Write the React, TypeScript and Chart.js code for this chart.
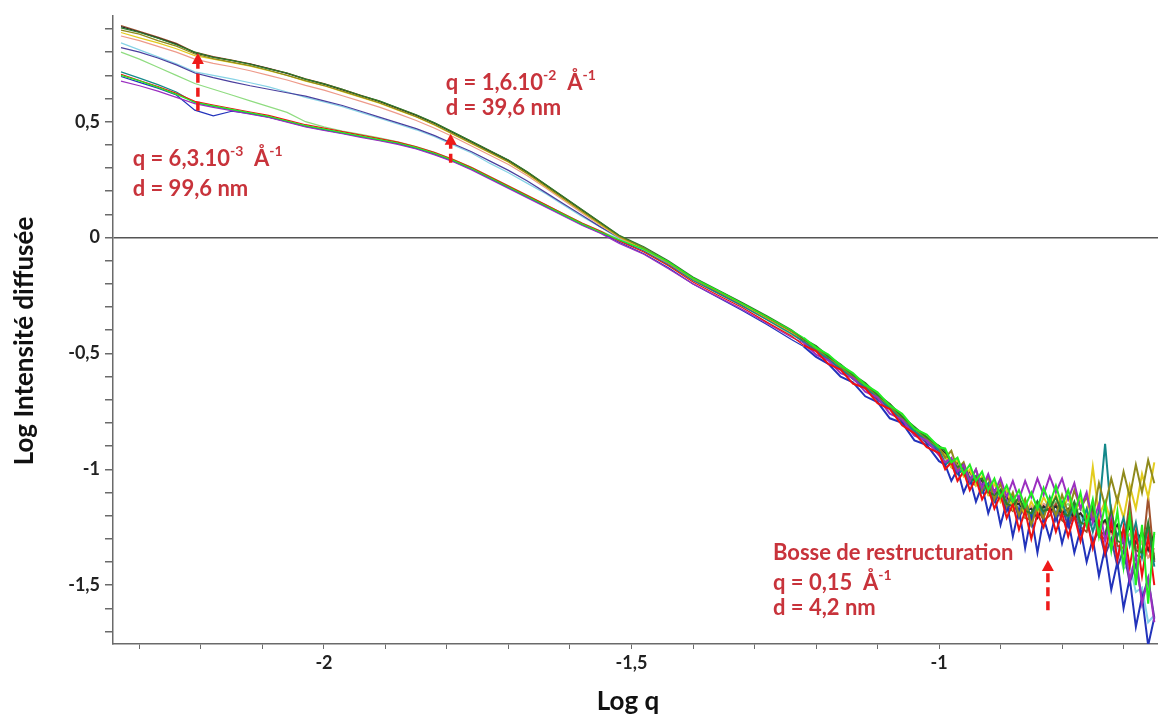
import { useEffect, useRef } from 'react';
import { Chart, registerables } from 'chart.js';

Chart.register(...registerables);

// ---- data ----
const logQ = [
  -2.33, -2.30, -2.27, -2.24, -2.21, -2.18, -2.15, -2.12, -2.09, -2.06, -2.03, -2.00, -1.97, -1.94,
  -1.91, -1.88, -1.85, -1.82, -1.79, -1.76, -1.73, -1.70, -1.67, -1.64, -1.61, -1.58, -1.55,
  -1.52, -1.48, -1.44, -1.40, -1.36, -1.32, -1.28, -1.24,
  -1.22, -1.20, -1.18, -1.16, -1.14, -1.12, -1.10, -1.08, -1.06, -1.04, -1.02, -1.00,
  -0.99, -0.98, -0.97, -0.96, -0.95, -0.94, -0.93, -0.92, -0.91, -0.90, -0.89, -0.88, -0.87, -0.86,
  -0.85, -0.84, -0.83, -0.82, -0.81, -0.80, -0.79, -0.78, -0.77, -0.76, -0.75, -0.74, -0.73, -0.72,
  -0.71, -0.70, -0.69, -0.68, -0.67, -0.66, -0.65,
];

const lime = [
  0.70, 0.676, 0.648, 0.618, 0.584, 0.568, 0.553, 0.538, 0.523, 0.503, 0.483, 0.468, 0.453, 0.438,
  0.423, 0.408, 0.388, 0.363, 0.333, 0.298, 0.258, 0.218, 0.178, 0.138, 0.098, 0.058, 0.023,
  -0.01, -0.05, -0.105, -0.175, -0.228, -0.285, -0.342, -0.40,
  -0.432, -0.475, -0.505, -0.552, -0.585, -0.635, -0.668, -0.725, -0.76, -0.825, -0.85, -0.905,
  -0.91, -0.97, -0.95, -1.02, -0.98, -1.05, -1.01, -1.09, -1.04, -1.12, -1.07, -1.14, -1.09, -1.16,
  -1.10, -1.17, -1.08, -1.15, -1.07, -1.16, -1.09, -1.19, -1.10, -1.24, -1.13, -1.29, -1.15, -1.35,
  -1.18, -1.42, -1.20, -1.50, -1.24, -1.58, -1.27,
];
const red = [
  0.705, 0.678, 0.652, 0.622, 0.588, 0.572, 0.557, 0.542, 0.527, 0.507, 0.487, 0.472, 0.457, 0.442,
  0.427, 0.412, 0.392, 0.367, 0.337, 0.302, 0.262, 0.222, 0.182, 0.142, 0.102, 0.062, 0.027,
  -0.015, -0.062, -0.122, -0.192, -0.248, -0.302, -0.365, -0.425,
  -0.465, -0.49, -0.545, -0.57, -0.63, -0.65, -0.715, -0.74, -0.81, -0.845, -0.905, -0.93,
  -1.00, -0.97, -1.05, -1.01, -1.09, -1.04, -1.13, -1.08, -1.17, -1.11, -1.21, -1.15, -1.26, -1.18,
  -1.30, -1.19, -1.25, -1.17, -1.27, -1.19, -1.29, -1.20, -1.31, -1.21, -1.34, -1.22, -1.36, -1.23,
  -1.39, -1.25, -1.42, -1.27, -1.46, -1.29, -1.50,
];
const purple = [
  0.675, 0.655, 0.632, 0.605, 0.578, 0.562, 0.548, 0.532, 0.518, 0.498, 0.478, 0.462, 0.448, 0.432,
  0.418, 0.402, 0.382, 0.357, 0.327, 0.292, 0.252, 0.212, 0.172, 0.132, 0.092, 0.052, 0.018,
  -0.025, -0.072, -0.135, -0.20, -0.255, -0.31, -0.37, -0.43,
  -0.455, -0.505, -0.53, -0.585, -0.605, -0.665, -0.69, -0.76, -0.785, -0.855, -0.875, -0.94,
  -0.97, -0.95, -1.01, -0.98, -1.05, -1.00, -1.08, -1.02, -1.10, -1.04, -1.12, -1.05, -1.13, -1.05,
  -1.12, -1.04, -1.11, -1.03, -1.10, -1.04, -1.13, -1.06, -1.17, -1.10, -1.23, -1.15, -1.31, -1.21,
  -1.39, -1.29, -1.48, -1.37, -1.58, -1.47, -1.66,
];
const darkGreen = [
  0.905, 0.885, 0.86, 0.832, 0.80, 0.778, 0.765, 0.748, 0.728, 0.71, 0.684, 0.663, 0.64, 0.613,
  0.59, 0.56, 0.53, 0.495, 0.455, 0.415, 0.375, 0.335, 0.285, 0.23, 0.175, 0.12, 0.065,
  0.01, -0.04, -0.10, -0.17, -0.225, -0.28, -0.338, -0.398,
  -0.438, -0.468, -0.512, -0.548, -0.592, -0.628, -0.678, -0.718, -0.772, -0.818, -0.862, -0.90,
  -0.92, -0.97, -0.99, -0.98, -1.04, -1.05, -1.04, -1.10, -1.11, -1.09, -1.15, -1.16, -1.12, -1.18,
  -1.19, -1.14, -1.18, -1.17, -1.12, -1.19, -1.20, -1.14, -1.23, -1.24, -1.16, -1.27, -1.28, -1.18,
  -1.31, -1.32, -1.20, -1.35, -1.36, -1.23, -1.39,
];
const olive = [
  0.895, 0.878, 0.85, 0.826, 0.792, 0.772, 0.757, 0.742, 0.722, 0.70, 0.677, 0.656, 0.632, 0.607,
  0.582, 0.552, 0.522, 0.487, 0.447, 0.407, 0.367, 0.327, 0.277, 0.222, 0.167, 0.112, 0.058,
  0.005, -0.045, -0.105, -0.175, -0.23, -0.285, -0.345, -0.405,
  -0.44, -0.478, -0.515, -0.555, -0.598, -0.635, -0.683, -0.725, -0.778, -0.822, -0.868, -0.905,
  -0.95, -0.92, -1.00, -0.97, -1.05, -1.00, -1.09, -1.03, -1.13, -1.06, -1.16, -1.10, -1.20, -1.13,
  -1.24, -1.16, -1.21, -1.13, -1.20, -1.11, -1.19, -1.09, -1.17, -1.12, -1.21, -1.06, -1.16, -1.04,
  -1.14, -1.01, -1.12, -0.98, -1.10, -0.96, -1.06,
];
const blue = [
  0.695, 0.67, 0.645, 0.615, 0.55, 0.525, 0.545, 0.535, 0.52, 0.50, 0.48, 0.465, 0.45, 0.435,
  0.42, 0.405, 0.385, 0.36, 0.33, 0.295, 0.255, 0.215, 0.175, 0.135, 0.095, 0.055, 0.02,
  -0.02, -0.07, -0.13, -0.20, -0.258, -0.315, -0.375, -0.44,
  -0.47, -0.515, -0.545, -0.60, -0.625, -0.685, -0.71, -0.78, -0.80, -0.875, -0.895, -0.965,
  -0.98, -1.05, -1.00, -1.10, -1.04, -1.14, -1.07, -1.19, -1.11, -1.24, -1.14, -1.29, -1.17, -1.34,
  -1.20, -1.36, -1.21, -1.30, -1.19, -1.32, -1.22, -1.36, -1.26, -1.40, -1.30, -1.46, -1.34, -1.52,
  -1.40, -1.60, -1.47, -1.68, -1.55, -1.76, -1.64,
];
const teal = [
  0.715, 0.688, 0.66, 0.628, 0.582, 0.566, 0.551, 0.536, 0.521, 0.501, 0.481, 0.466, 0.451, 0.436,
  0.421, 0.406, 0.386, 0.361, 0.331, 0.296, 0.256, 0.216, 0.176, 0.136, 0.096, 0.056, 0.021,
  -0.012, -0.058, -0.118, -0.185, -0.24, -0.295, -0.355, -0.415,
  -0.45, -0.485, -0.525, -0.565, -0.605, -0.645, -0.69, -0.735, -0.785, -0.835, -0.875, -0.915,
  -0.98, -0.96, -1.02, -1.00, -1.06, -1.03, -1.10, -1.06, -1.13, -1.09, -1.16, -1.11, -1.19, -1.13,
  -1.21, -1.14, -1.20, -1.12, -1.20, -1.14, -1.22, -1.15, -1.25, -1.17, -1.27, -1.18, -0.89, -1.20,
  -1.29, -1.21, -1.33, -1.23, -1.38, -1.25, -1.42,
];
const yellow = [
  0.885, 0.862, 0.84, 0.815, 0.785, 0.77, 0.755, 0.74, 0.72, 0.70, 0.675, 0.655, 0.63, 0.605,
  0.58, 0.55, 0.52, 0.485, 0.445, 0.405, 0.365, 0.325, 0.275, 0.22, 0.165, 0.11, 0.055,
  0.002, -0.05, -0.108, -0.178, -0.232, -0.288, -0.348, -0.41,
  -0.44, -0.482, -0.512, -0.562, -0.592, -0.642, -0.675, -0.735, -0.77, -0.835, -0.86, -0.915,
  -0.94, -0.99, -0.96, -1.03, -1.00, -1.07, -1.03, -1.11, -1.06, -1.14, -1.09, -1.17, -1.12, -1.20,
  -1.14, -1.19, -1.12, -1.17, -1.11, -1.18, -1.12, -1.19, -1.13, -1.21, -0.99, -1.20, -1.14, -1.23,
  -1.12, -1.21, -1.07, -1.17, -1.02, -1.12, -0.97,
];
const black = [
  0.91, 0.887, 0.862, 0.835, 0.797, 0.779, 0.764, 0.749, 0.729, 0.708, 0.683, 0.662, 0.637, 0.612,
  0.587, 0.557, 0.527, 0.492, 0.452, 0.412, 0.372, 0.332, 0.282, 0.227, 0.172, 0.117, 0.062,
  0.005, -0.048, -0.108, -0.178, -0.233, -0.288, -0.348, -0.408,
  -0.443, -0.478, -0.518, -0.558, -0.598, -0.638, -0.683, -0.728, -0.778, -0.828, -0.868, -0.908,
  -0.93, -0.97, -0.97, -1.01, -1.01, -1.05, -1.05, -1.08, -1.09, -1.11, -1.12, -1.15, -1.15, -1.18,
  -1.17, -1.21, -1.16, -1.18, -1.16, -1.19, -1.17, -1.21, -1.19, -1.23, -1.21, -1.25, -1.22, -1.27,
  -1.24, -1.30, -1.25, -1.32, -1.27, -1.35, -1.28,
];
const brown = [
  0.915, 0.89, 0.865, 0.838, 0.80, 0.781, 0.766, 0.75, 0.73, 0.71, 0.685, 0.664, 0.64, 0.614,
  0.589, 0.559, 0.529, 0.494, 0.454, 0.414, 0.374, 0.334, 0.284, 0.229, 0.174, 0.119, 0.064,
  0.008, -0.045, -0.105, -0.175, -0.228, -0.283, -0.343, -0.403,
  -0.445, -0.47, -0.522, -0.55, -0.603, -0.63, -0.69, -0.72, -0.785, -0.82, -0.876, -0.90,
  -0.94, -0.99, -1.01, -0.99, -1.05, -1.07, -1.04, -1.11, -1.12, -1.09, -1.16, -1.18, -1.13, -1.21,
  -1.22, -1.17, -1.22, -1.20, -1.15, -1.22, -1.24, -1.17, -1.25, -1.27, -1.18, -1.29, -1.30, -1.17,
  -1.33, -1.34, -1.14, -1.37, -1.38, -1.12, -1.40,
];
const salmon = [
  0.87, 0.85, 0.825, 0.80, 0.77, 0.752, 0.737, 0.72, 0.70, 0.68, 0.657, 0.636, 0.612, 0.588,
  0.563, 0.535, 0.505, 0.472, 0.435, 0.395, 0.355, 0.315, 0.268, 0.215, 0.16, 0.105, 0.052,
  0.0, -0.052, -0.11, -0.18, -0.232, -0.288, -0.35, -0.41,
  -0.445, -0.48, -0.52, -0.56, -0.60, -0.64, -0.685, -0.73, -0.78, -0.83, -0.87, -0.91,
  -0.95, -0.97, -0.98, -1.01, -1.02, -1.04, -1.06, -1.08, -1.09, -1.11, -1.13, -1.14, -1.15, -1.18,
  -1.16, -1.19, -1.15, -1.17, -1.15, -1.19, -1.17, -1.21, -1.19, -1.23, -1.21, -1.25, -1.23, -1.28,
  -1.25, -1.31, -1.28, -1.34, -1.31, -1.38, -1.34,
];
const navy = [
  0.82, 0.80, 0.775, 0.745, 0.71, 0.69, 0.672, 0.655, 0.64, 0.625, 0.61, 0.59, 0.57, 0.545,
  0.52, 0.495, 0.47, 0.44, 0.405, 0.37, 0.33, 0.29, 0.245, 0.195, 0.145, 0.095, 0.045,
  0.0, -0.05, -0.112, -0.18, -0.238, -0.292, -0.352, -0.412,
  -0.452, -0.485, -0.528, -0.565, -0.61, -0.648, -0.70, -0.738, -0.795, -0.838, -0.888, -0.922,
  -0.98, -0.96, -1.02, -1.00, -1.06, -1.03, -1.10, -1.07, -1.14, -1.10, -1.18, -1.13, -1.21, -1.15,
  -1.24, -1.14, -1.19, -1.13, -1.22, -1.16, -1.25, -1.19, -1.28, -1.22, -1.32, -1.26, -1.37, -1.30,
  -1.42, -1.35, -1.49, -1.41, -1.56, -1.47, -1.64,
];
const lightBlue = [
  0.84, 0.81, 0.78, 0.75, 0.715, 0.70, 0.685, 0.668, 0.65, 0.628, 0.605, 0.585, 0.565, 0.54,
  0.515, 0.49, 0.465, 0.435, 0.40, 0.365, 0.32, 0.28, 0.235, 0.19, 0.14, 0.09, 0.045,
  -0.005, -0.055, -0.115, -0.18, -0.235, -0.29, -0.35, -0.415,
  -0.448, -0.488, -0.522, -0.568, -0.602, -0.648, -0.688, -0.738, -0.782, -0.838, -0.872, -0.92,
  -0.95, -0.98, -0.99, -1.02, -1.03, -1.06, -1.06, -1.09, -1.09, -1.12, -1.12, -1.15, -1.14, -1.18,
  -1.16, -1.20, -1.16, -1.18, -1.16, -1.20, -1.18, -1.22, -1.20, -1.25, -1.23, -1.29, -1.27, -1.35,
  -1.33, -1.43, -1.41, -1.53, -1.51, -1.66, -1.63,
];
const lightGreen = [
  0.80, 0.77, 0.735, 0.70, 0.665, 0.64, 0.615, 0.59, 0.565, 0.54, 0.50, 0.478, 0.46, 0.445,
  0.43, 0.413, 0.393, 0.368, 0.338, 0.303, 0.263, 0.223, 0.183, 0.143, 0.103, 0.063, 0.028,
  -0.008, -0.055, -0.115, -0.185, -0.24, -0.295, -0.355, -0.42,
  -0.45, -0.49, -0.525, -0.57, -0.605, -0.65, -0.69, -0.74, -0.785, -0.84, -0.875, -0.92,
  -0.96, -0.97, -1.00, -1.01, -1.04, -1.04, -1.07, -1.08, -1.10, -1.11, -1.13, -1.14, -1.15, -1.17,
  -1.17, -1.18, -1.15, -1.16, -1.14, -1.16, -1.15, -1.18, -1.17, -1.20, -1.19, -1.23, -1.22, -1.26,
  -1.24, -1.30, -1.28, -1.34, -1.32, -1.38, -1.36,
];

const seriesList = [
  { name: 'lime', values: lime, color: '#22ee22' },
  { name: 'red', values: red, color: '#ee1111' },
  { name: 'purple', values: purple, color: '#9b2fc0' },
  { name: 'darkGreen', values: darkGreen, color: '#2f7d2a' },
  { name: 'olive', values: olive, color: '#8f8a1c' },
  { name: 'blue', values: blue, color: '#2233bb' },
  { name: 'teal', values: teal, color: '#13888a' },
  { name: 'yellow', values: yellow, color: '#e3cc1e' },
  { name: 'black', values: black, color: '#2a2a2a' },
  { name: 'brown', values: brown, color: '#a0522d' },
  { name: 'salmon', values: salmon, color: '#ee9a8a' },
  { name: 'navy', values: navy, color: '#4a3f9e' },
  { name: 'lightBlue', values: lightBlue, color: '#86d3e6' },
  { name: 'lightGreen', values: lightGreen, color: '#8fdc80' },
];

const xLabelTicks = [-2, -1.5, -1];
const yLabelTicks = [0.5, 0, -0.5, -1, -1.5];

const FONT = 'Lato, "Open Sans", sans-serif';
const TEXT_RED = '#c8333b';
const ARROW_RED = '#ee1a1a';

type Part = { t: string; sup?: boolean };
const notes: { x: number; y: number; parts: Part[] }[] = [
  { x: -2.311, y: 0.34, parts: [{ t: 'q = 6,3.10' }, { t: '-3', sup: true }, { t: '  Å' }, { t: '-1', sup: true }] },
  { x: -2.311, y: 0.211, parts: [{ t: 'd = 99,6 nm' }] },
  { x: -1.802, y: 0.668, parts: [{ t: 'q = 1,6.10' }, { t: '-2', sup: true }, { t: '  Å' }, { t: '-1', sup: true }] },
  { x: -1.802, y: 0.56, parts: [{ t: 'd = 39,6 nm' }] },
  { x: -1.27, y: -1.362, parts: [{ t: 'Bosse de restructuration' }] },
  { x: -1.27, y: -1.491, parts: [{ t: 'q = 0,15  Å' }, { t: '-1', sup: true }] },
  { x: -1.27, y: -1.599, parts: [{ t: 'd = 4,2 nm' }] },
];
const arrows = [
  { x: -2.205, from: 0.547, to: 0.797 },
  { x: -1.794, from: 0.323, to: 0.448 },
  { x: -0.823, from: -1.608, to: -1.392 },
];

const isLabel = (v: number, list: number[]) => list.some((l) => Math.abs(l - v) < 1e-6);
const fmt = (v: number) => String(Math.round(v * 10) / 10).replace('.', ',');

const overlay = {
  id: 'overlay',
  afterDraw(chart: any) {
    const { ctx } = chart;
    const xs = chart.scales.x;
    const ys = chart.scales.y;
    ctx.save();
    for (const a of arrows) {
      const px = xs.getPixelForValue(a.x);
      const p0 = ys.getPixelForValue(a.from);
      const p1 = ys.getPixelForValue(a.to);
      const head = 11;
      ctx.strokeStyle = ARROW_RED;
      ctx.fillStyle = ARROW_RED;
      ctx.lineWidth = 3.5;
      ctx.setLineDash([9, 5]);
      ctx.beginPath();
      ctx.moveTo(px, p0);
      ctx.lineTo(px, p1 + head - 1);
      ctx.stroke();
      ctx.setLineDash([]);
      ctx.beginPath();
      ctx.moveTo(px, p1);
      ctx.lineTo(px - 6, p1 + head);
      ctx.lineTo(px + 6, p1 + head);
      ctx.closePath();
      ctx.fill();
    }
    const size = 22;
    ctx.fillStyle = TEXT_RED;
    ctx.textBaseline = 'middle';
    ctx.textAlign = 'left';
    for (const n of notes) {
      let cx = xs.getPixelForValue(n.x);
      const cy = ys.getPixelForValue(n.y);
      for (const p of n.parts) {
        if (p.sup) {
          ctx.font = `bold ${Math.round(size * 0.62)}px ${FONT}`;
          ctx.fillText(p.t, cx, cy - size * 0.33);
        } else {
          ctx.font = `bold ${size}px ${FONT}`;
          ctx.fillText(p.t, cx, cy);
        }
        cx += ctx.measureText(p.t).width;
      }
    }
    ctx.fillStyle = '#111';
    ctx.textAlign = 'center';
    ctx.font = `bold 26px ${FONT}`;
    ctx.fillText('Log q', 628, 702);
    ctx.translate(25, 341);
    ctx.rotate(-Math.PI / 2);
    ctx.font = `bold 26px ${FONT}`;
    ctx.fillText('Log Intensité diffusée', 0, 0);
    ctx.restore();
  },
};

export default function App() {
  const ref = useRef<HTMLCanvasElement | null>(null);
  useEffect(() => {
    if (!ref.current) return;
    const chart = new Chart(ref.current, {
      type: 'scatter',
      data: {
        datasets: seriesList.map((s) => ({
          label: s.name,
          data: logQ.map((q, i) => ({ x: q, y: s.values[i] })),
          showLine: true,
          borderColor: s.color,
          backgroundColor: s.color,
          borderWidth: 1.2,
          pointRadius: 0,
          tension: 0,
          segment: {
            borderWidth: (c: any) => (c.p0.parsed.x > -1.23 ? 2 : 1.2),
          },
        })),
      },
      options: {
        animation: false,
        responsive: false,
        layout: { padding: { top: 15, left: 0, right: 0, bottom: 0 } },
        plugins: { legend: { display: false }, tooltip: { enabled: false } },
        scales: {
          x: {
            type: 'linear',
            min: -2.343,
            max: -0.644,
            afterFit: (s: any) => { s.height = 76; },
            border: { display: true, color: '#6a6a6a', width: 1.5 },
            grid: { drawOnChartArea: false, drawTicks: true, tickLength: 5, tickColor: '#6a6a6a' },
            ticks: {
              stepSize: 0.1,
              includeBounds: false,
              autoSkip: false,
              maxRotation: 0,
              padding: 3,
              color: '#222',
              font: { family: FONT, weight: 'bold', size: 18 },
              callback: (v: any) => (isLabel(Number(v), xLabelTicks) ? fmt(Number(v)) : ''),
            },
          },
          y: {
            type: 'linear',
            min: -1.754,
            max: 0.957,
            afterFit: (s: any) => { s.width = 113; },
            border: { display: true, color: '#6a6a6a', width: 1.5 },
            grid: {
              drawOnChartArea: true,
              drawTicks: true,
              tickLength: 8,
              tickColor: '#6a6a6a',
              lineWidth: 1.5,
              color: (c: any) => (c.tick && Math.abs(c.tick.value) < 1e-6 ? '#555' : 'rgba(0,0,0,0)'),
            },
            ticks: {
              stepSize: 0.1,
              includeBounds: false,
              autoSkip: false,
              padding: 5,
              color: '#222',
              font: { family: FONT, weight: 'bold', size: 18 },
              callback: (v: any) => (isLabel(Number(v), yLabelTicks) ? fmt(Number(v)) : ''),
            },
          },
        },
      },
      plugins: [overlay],
    } as any);
    return () => chart.destroy();
  }, []);
  return (
    <div style={{ position: 'absolute', left: 0, top: 0, width: 1158, height: 720, background: '#fff' }}>
      <canvas ref={ref} width={1158} height={720} style={{ display: 'block' }} />
    </div>
  );
}
